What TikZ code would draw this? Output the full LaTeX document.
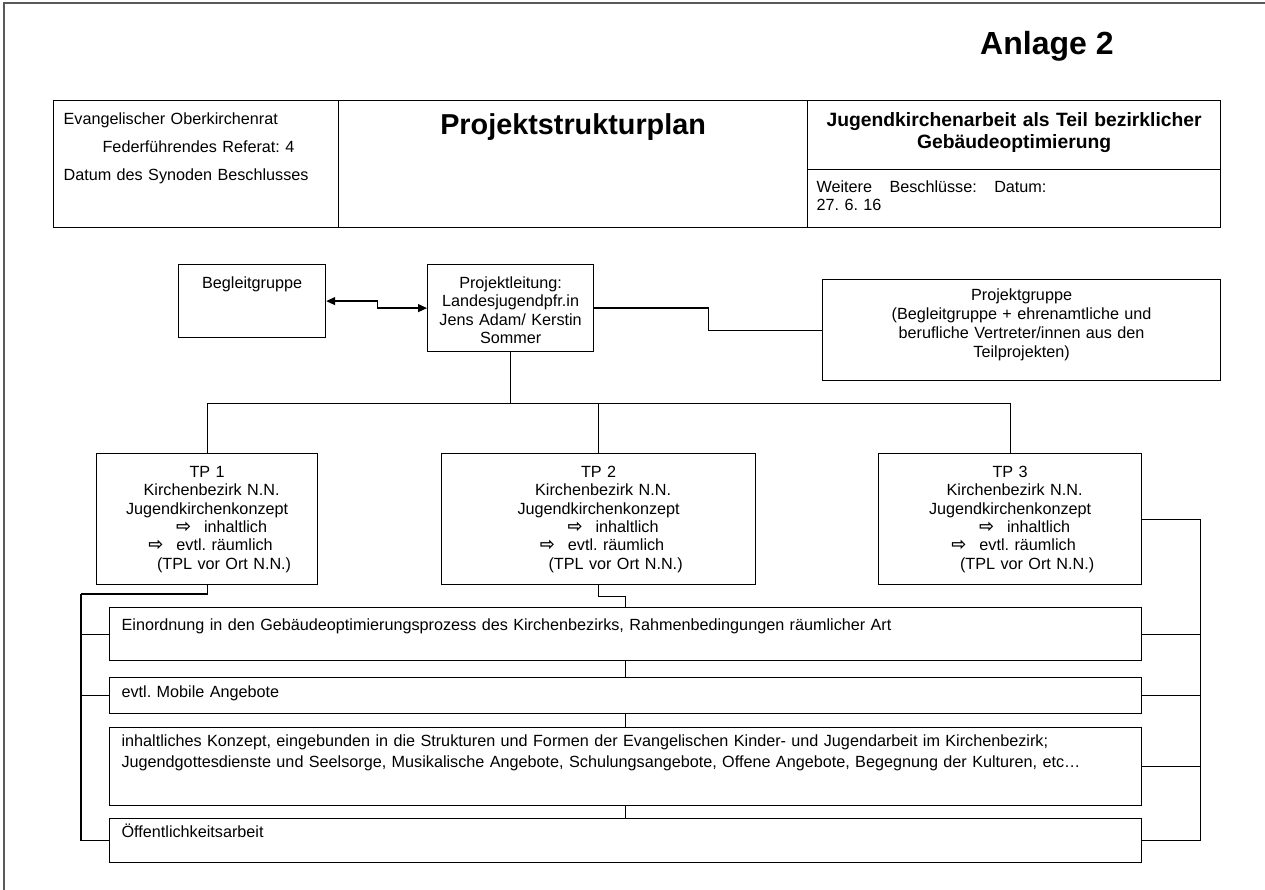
\documentclass[tikz,border=0pt]{standalone}
\usepackage{fontspec}
\setmainfont{Liberation Sans}
\newfontfamily\arrowfont{DejaVu Sans}
\usepackage{tikz}
\usetikzlibrary{arrows.meta,positioning}
\newcommand{\ra}{\makebox[28pt][l]{\arrowfont\bfseries\fontsize{18}{18}\selectfont ⇨}}
\frenchspacing

\begin{document}
\begin{tikzpicture}[x=1pt, y=-1pt,
cell/.style={
    draw, line width=1.2pt,
    anchor=north west,
    inner ysep=0pt, inner xsep=5pt,
    align=center,
    font=\fontsize{16.2}{18.3}\selectfont
},
bar/.style={
    cell,
    inner xsep=12pt,
    text width=1008pt,
    align=left
},
tp/.style={
    cell,
    text height=24pt, text depth=107pt
},
line/.style={line width=1.2pt},
dbl/.style={line width=1.2pt, {Triangle[length=9pt,width=8pt]}-{Triangle[length=9pt,width=8pt]}}
]

\useasboundingbox (0,0) rectangle (1265,890);
\draw[line width=1.8pt, black!65] (4,890) -- (4,3) -- (1265,3);

% title block
\node[anchor=base west, inner sep=0pt, font=\bfseries\fontsize{32}{36}\selectfont] (anlage) at (980,55) {Anlage 2};

\node[cell, text width=265pt, inner xsep=10pt, align=left, text height=24pt, text depth=103pt,
      font=\fontsize{16.2}{28}\selectfont] (ekr) at (53,100)
      {Evangelischer Oberkirchenrat\\\hspace*{39pt}Federführendes Referat: 4\\Datum des Synoden Beschlusses};
\node[cell, text width=459pt, text height=34pt, text depth=93pt,
      font=\bfseries\fontsize{28.8}{32}\selectfont] (psp) at (338,100) {Projektstrukturplan};
\node[cell, text width=403pt, text height=26pt, text depth=43pt,
      font=\bfseries\fontsize{19.3}{22}\selectfont] (thema) at (807,100)
      {Jugendkirchenarbeit als Teil bezirklicher\\Gebäudeoptimierung};
\node[cell, text width=395pt, inner xsep=9pt, align=left, text height=23pt, text depth=35pt,
      font=\fontsize{16.2}{18}\selectfont] (beschl) at (807,169)
      {Weitere\hspace{12pt} Beschlüsse:\hspace{12pt} Datum:\\27. 6. 16};

% leitung
\node[cell, text width=137pt, text height=24pt, text depth=49pt] (begl) at (178,264) {Begleitgruppe};
\node[cell, text width=156pt, text height=24pt, text depth=63pt] (pl) at (427,264)
      {Projektleitung:\\Landesjugendpfr.in\\Jens Adam/ Kerstin\\Sommer};
\node[cell, text width=388pt, text height=21pt, text depth=80pt,
      font=\fontsize{16.2}{19}\selectfont] (pg) at (822,279)
      {Projektgruppe\\(Begleitgruppe + ehrenamtliche und\\berufliche Vertreter/innen aus den\\Teilprojekten)};

% teilprojekte
\node[tp, text width=211pt] (tp1) at (96,453)
      {TP 1\\\hspace*{9pt}Kirchenbezirk N.N.\\Jugendkirchenkonzept\\
       \hspace*{29pt}\ra inhaltlich\\\hspace*{7pt}\ra evtl. räumlich\\\hspace*{34pt}(TPL vor Ort N.N.)};
\node[tp, text width=304pt] (tp2) at (441,453)
      {TP 2\\\hspace*{9pt}Kirchenbezirk N.N.\\Jugendkirchenkonzept\\
       \hspace*{29pt}\ra inhaltlich\\\hspace*{7pt}\ra evtl. räumlich\\\hspace*{34pt}(TPL vor Ort N.N.)};
\node[tp, text width=253pt] (tp3) at (878,453)
      {TP 3\\\hspace*{9pt}Kirchenbezirk N.N.\\Jugendkirchenkonzept\\
       \hspace*{29pt}\ra inhaltlich\\\hspace*{7pt}\ra evtl. räumlich\\\hspace*{34pt}(TPL vor Ort N.N.)};

% arbeitsfelder
\node[bar, text height=23pt, text depth=30pt] (einord) at (109,607)
      {Einordnung in den Gebäudeoptimierungsprozess des Kirchenbezirks, Rahmenbedingungen räumlicher Art};
\node[bar, text height=20pt, text depth=16pt] (mobil) at (109,677) {evtl. Mobile Angebote};
\node[bar, text height=19pt, text depth=59pt, font=\fontsize{16.2}{21}\selectfont] (konz) at (109,727)
      {inhaltliches Konzept, eingebunden in die Strukturen und Formen der Evangelischen Kinder- und Jugendarbeit im Kirchenbezirk;\\
       Jugendgottesdienste und Seelsorge, Musikalische Angebote, Schulungsangebote, Offene Angebote, Begegnung der Kulturen, etc\ldots};
\node[bar, text height=19pt, text depth=25pt] (ofa) at (109,818) {Öffentlichkeitsarbeit};

% verbindungen
\draw[dbl] (begl.east) -- ++(51,0) |- (pl.west);
\draw[line] (pl.east) -- ++(114.5,0) |- (pg.west);
\draw[line] (pl.south) -- ++(0,51) coordinate (bus);
\draw[line] (bus) -| (tp1.north);
\draw[line] (bus) -| (tp3.north);
\draw[line] (tp2.north) -- (tp2.north |- bus);

\coordinate (lbus) at (81,594);
\draw[line] (tp1.south) |- (lbus);
\draw[line] (lbus) |- (ofa.west);
\draw[line] (einord.west -| lbus) -- (einord.west);
\draw[line] (mobil.west -| lbus) -- (mobil.west);

\draw[line] (tp3.east) -- ++(58,0) coordinate (rbus) |- (ofa.east);
\draw[line] (einord.east) -- (einord.east -| rbus);
\draw[line] (mobil.east) -- (mobil.east -| rbus);
\draw[line] (konz.east) -- (konz.east -| rbus);

\draw[line] (tp2.south) -- ++(0,11) -| (einord.north);
\draw[line] (einord.south) -- (mobil.north);
\draw[line] (mobil.south) -- (konz.north);
\draw[line] (konz.south) -- (ofa.north);

\end{tikzpicture}
\end{document}
